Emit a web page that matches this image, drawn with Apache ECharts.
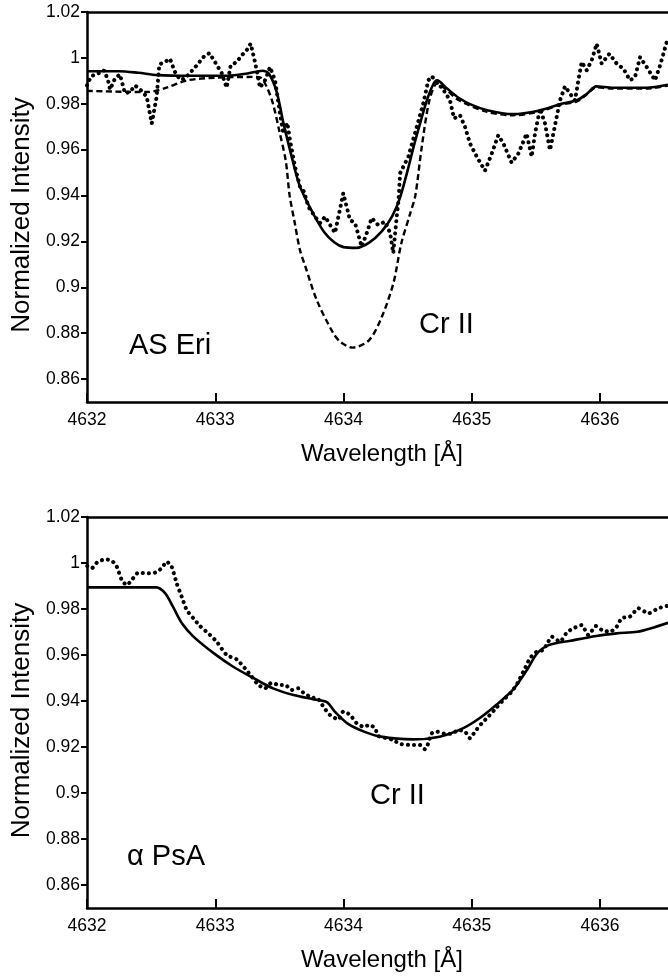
<!DOCTYPE html>
<html><head><meta charset="utf-8">
<script src="https://cdn.jsdelivr.net/npm/echarts@6/dist/echarts.min.js"></script>
<style>html,body{margin:0;padding:0;background:#fff}#c{width:668px;height:980px}</style>
</head><body><div id="c"></div>
<script>
// ---- data ----
const xTicks = [4632, 4633, 4634, 4635, 4636];
const yTicks = [0.86, 0.88, 0.9, 0.92, 0.94, 0.96, 0.98, 1, 1.02];
const panelNames = ['AS Eri', 'α PsA'];
const lineName = 'Cr II';

const topObserved = [[4632.000,0.9880],[4632.031,0.9920],[4632.070,0.9928],[4632.109,0.9938],[4632.133,0.9946],[4632.164,0.9902],[4632.180,0.9862],[4632.218,0.9910],[4632.257,0.9928],[4632.296,0.9846],[4632.335,0.9851],[4632.374,0.9880],[4632.427,0.9856],[4632.466,0.9830],[4632.505,0.9714],[4632.543,0.9830],[4632.564,0.9972],[4632.608,0.9982],[4632.647,0.9996],[4632.686,0.9938],[4632.725,0.9905],[4632.764,0.9910],[4632.803,0.9934],[4632.855,0.9967],[4632.907,1.0003],[4632.954,1.0021],[4632.998,0.9982],[4633.050,0.9934],[4633.089,0.9870],[4633.120,0.9967],[4633.167,0.9982],[4633.206,1.0011],[4633.245,1.0033],[4633.276,1.0062],[4633.310,0.9982],[4633.349,0.9870],[4633.388,0.9902],[4633.427,0.9960],[4633.466,0.9902],[4633.505,0.9757],[4633.531,0.9670],[4633.562,0.9717],[4633.583,0.9641],[4633.622,0.9525],[4633.661,0.9438],[4633.692,0.9417],[4633.726,0.9351],[4633.778,0.9308],[4633.817,0.9280],[4633.856,0.9308],[4633.895,0.9272],[4633.934,0.9237],[4633.998,0.9410],[4634.051,0.9293],[4634.090,0.9280],[4634.142,0.9177],[4634.181,0.9236],[4634.220,0.9302],[4634.269,0.9272],[4634.324,0.9286],[4634.363,0.9237],[4634.388,0.9149],[4634.415,0.9308],[4634.429,0.9380],[4634.441,0.9497],[4634.505,0.9569],[4634.571,0.9699],[4634.622,0.9801],[4634.661,0.9902],[4634.688,0.9920],[4634.727,0.9895],[4634.778,0.9862],[4634.830,0.9815],[4634.862,0.9736],[4634.908,0.9750],[4634.947,0.9700],[4634.986,0.9627],[4635.039,0.9569],[4635.103,0.9508],[4635.156,0.9583],[4635.207,0.9663],[4635.246,0.9627],[4635.311,0.9543],[4635.363,0.9583],[4635.428,0.9670],[4635.467,0.9569],[4635.493,0.9670],[4635.532,0.9779],[4635.571,0.9714],[4635.610,0.9598],[4635.636,0.9670],[4635.688,0.9815],[4635.727,0.9876],[4635.766,0.9844],[4635.805,0.9815],[4635.831,0.9902],[4635.857,0.9982],[4635.896,0.9946],[4635.935,0.9989],[4635.974,1.0062],[4636.013,0.9975],[4636.073,1.0018],[4636.130,0.9975],[4636.182,0.9953],[4636.234,0.9902],[4636.273,0.9917],[4636.312,1.0003],[4636.364,0.9960],[4636.429,0.9902],[4636.468,0.9967],[4636.520,1.0069]];

const topModelSolid = [[4632.00,0.9942],[4632.25,0.9942],[4632.40,0.9935],[4632.55,0.9925],[4632.80,0.9922],[4633.10,0.9922],[4633.25,0.9932],[4633.37,0.9944],[4633.42,0.9930],[4633.48,0.9850],[4633.53,0.9720],[4633.60,0.9560],[4633.66,0.9440],[4633.76,0.9325],[4633.85,0.9240],[4633.93,0.9195],[4634.00,0.9175],[4634.10,0.9172],[4634.20,0.9195],[4634.30,0.9245],[4634.38,0.9310],[4634.44,0.9390],[4634.50,0.9510],[4634.55,0.9620],[4634.60,0.9720],[4634.65,0.9815],[4634.70,0.9885],[4634.73,0.9902],[4634.80,0.9870],[4634.90,0.9825],[4635.00,0.9795],[4635.12,0.9772],[4635.32,0.9755],[4635.52,0.9770],[4635.70,0.9800],[4635.82,0.9815],[4635.90,0.9845],[4635.97,0.9876],[4636.10,0.9870],[4636.36,0.9870],[4636.53,0.9883]];

const topModelDashed = [[4632.00,0.9856],[4632.47,0.9851],[4632.62,0.9870],[4632.78,0.9902],[4633.01,0.9914],[4633.29,0.9917],[4633.35,0.9915],[4633.40,0.9875],[4633.45,0.9800],[4633.50,0.9680],[4633.55,0.9550],[4633.58,0.9400],[4633.62,0.9280],[4633.66,0.9163],[4633.70,0.9095],[4633.79,0.8946],[4633.92,0.8800],[4633.98,0.8760],[4634.07,0.8737],[4634.20,0.8770],[4634.30,0.8873],[4634.39,0.9020],[4634.45,0.9190],[4634.52,0.9322],[4634.56,0.9400],[4634.61,0.9612],[4634.67,0.9815],[4634.73,0.9888],[4634.79,0.9867],[4634.90,0.9815],[4635.12,0.9765],[4635.32,0.9750],[4635.52,0.9765],[4635.70,0.9797],[4635.82,0.9810],[4635.90,0.9842],[4635.97,0.9872],[4636.10,0.9866],[4636.36,0.9866],[4636.53,0.9880]];

const bottomObserved = [[4632.002,0.9987],[4632.037,0.9977],[4632.076,1.0001],[4632.140,1.0016],[4632.193,1.0010],[4632.232,0.9984],[4632.271,0.9926],[4632.310,0.9904],[4632.349,0.9926],[4632.400,0.9958],[4632.466,0.9955],[4632.530,0.9958],[4632.582,0.9977],[4632.621,1.0006],[4632.660,0.9984],[4632.699,0.9912],[4632.738,0.9854],[4632.777,0.9796],[4632.829,0.9760],[4632.881,0.9726],[4632.946,0.9694],[4633.011,0.9658],[4633.089,0.9600],[4633.167,0.9581],[4633.232,0.9542],[4633.284,0.9506],[4633.336,0.9470],[4633.388,0.9455],[4633.440,0.9480],[4633.492,0.9470],[4633.544,0.9470],[4633.596,0.9448],[4633.648,0.9455],[4633.687,0.9436],[4633.739,0.9419],[4633.804,0.9407],[4633.843,0.9375],[4633.895,0.9339],[4633.960,0.9320],[4633.998,0.9354],[4634.051,0.9340],[4634.103,0.9303],[4634.155,0.9288],[4634.207,0.9296],[4634.246,0.9281],[4634.272,0.9248],[4634.337,0.9238],[4634.389,0.9230],[4634.441,0.9213],[4634.519,0.9209],[4634.596,0.9209],[4634.635,0.9190],[4634.661,0.9216],[4634.688,0.9259],[4634.727,0.9267],[4634.778,0.9259],[4634.844,0.9257],[4634.895,0.9274],[4634.947,0.9267],[4634.986,0.9238],[4635.025,0.9267],[4635.078,0.9303],[4635.129,0.9332],[4635.194,0.9372],[4635.246,0.9404],[4635.311,0.9440],[4635.363,0.9484],[4635.415,0.9542],[4635.454,0.9586],[4635.506,0.9614],[4635.558,0.9622],[4635.597,0.9658],[4635.623,0.9680],[4635.688,0.9658],[4635.740,0.9697],[4635.792,0.9716],[4635.857,0.9730],[4635.909,0.9687],[4635.969,0.9726],[4636.013,0.9709],[4636.078,0.9701],[4636.130,0.9723],[4636.169,0.9760],[4636.234,0.9767],[4636.299,0.9803],[4636.377,0.9781],[4636.455,0.9803],[4636.520,0.9813]];

const bottomModel = [[4632.00,0.9894],[4632.54,0.9894],[4632.61,0.9868],[4632.67,0.9810],[4632.74,0.9738],[4632.83,0.9680],[4632.99,0.9607],[4633.14,0.9549],[4633.30,0.9499],[4633.45,0.9455],[4633.61,0.9426],[4633.77,0.9407],[4633.87,0.9395],[4633.93,0.9355],[4634.03,0.9303],[4634.16,0.9267],[4634.29,0.9245],[4634.54,0.9233],[4634.75,0.9245],[4634.93,0.9281],[4635.06,0.9325],[4635.19,0.9383],[4635.32,0.9448],[4635.43,0.9535],[4635.51,0.9607],[4635.60,0.9643],[4635.77,0.9662],[4635.97,0.9683],[4636.13,0.9694],[4636.29,0.9701],[4636.42,0.9720],[4636.53,0.9740]];

// ---- chart ----
const FONT = '"Liberation Sans", Arial, Helvetica, sans-serif';
const X_MIN = 4632, X_MAX = 4636.53, Y_MIN = 0.85, Y_MAX = 1.02;
const axisLineStyle = { color: '#000', width: 2.5 };

function bottomX(gi) {
  return {
    type: 'value', gridIndex: gi, position: 'bottom', min: X_MIN, max: X_MAX,
    name: 'Wavelength [Å]', nameLocation: 'middle', nameGap: 40,
    nameTextStyle: { fontSize: 24, color: '#000', fontFamily: FONT, padding: [0, 0, 0, 9] },
    axisLine: { onZero: false, lineStyle: axisLineStyle },
    axisTick: { inside: true, length: 9, customValues: xTicks, lineStyle: { color: '#000', width: 2 } },
    axisLabel: { customValues: xTicks, margin: 9, fontSize: 17.5, color: '#000', fontFamily: FONT, formatter: v => String(v) },
    splitLine: { show: false }
  };
}
function topX(gi) {
  return {
    type: 'value', gridIndex: gi, position: 'top', min: X_MIN, max: X_MAX,
    axisLine: { onZero: false, lineStyle: axisLineStyle },
    axisTick: { show: false }, axisLabel: { show: false }, splitLine: { show: false }
  };
}
function leftY(gi) {
  return {
    type: 'value', gridIndex: gi, min: Y_MIN, max: Y_MAX,
    name: 'Normalized Intensity', nameLocation: 'middle', nameGap: 50, nameRotate: 90,
    nameTextStyle: { fontSize: 26, color: '#000', fontFamily: FONT, padding: [0, 16, 0, 0] },
    axisLine: { show: true, onZero: false, lineStyle: axisLineStyle },
    axisTick: { show: true, inside: false, length: 6, customValues: yTicks, lineStyle: { color: '#000', width: 2 } },
    axisLabel: { customValues: yTicks, margin: 7, fontSize: 17.5, color: '#000', fontFamily: FONT, formatter: v => String(+v.toFixed(2)) },
    splitLine: { show: false }
  };
}
function line(data, xi, yi, style, smooth) {
  return {
    type: 'line', xAxisIndex: xi, yAxisIndex: yi, data: data,
    showSymbol: false, symbol: 'none', smooth: smooth, silent: true,
    lineStyle: Object.assign({ color: '#000' }, style)
  };
}
const dotted = { width: 4, type: [0.1, 6], cap: 'round' };
const solid = { width: 2.6, type: 'solid' };
const dashed = { width: 2.4, type: [6, 3.5] };

const chart = echarts.init(document.getElementById('c'), null, { renderer: 'canvas' });
chart.setOption({
  animation: false,
  backgroundColor: '#fff',
  textStyle: { fontFamily: FONT },
  grid: [
    { left: 87, top: 12, width: 581, height: 390 },
    { left: 87, top: 517, width: 581, height: 391 }
  ],
  xAxis: [bottomX(0), topX(0), bottomX(1), topX(1)],
  yAxis: [leftY(0), leftY(1)],
  series: [
    line(topObserved, 0, 0, dotted, false),
    line(topModelDashed, 0, 0, dashed, 0.3),
    line(topModelSolid, 0, 0, solid, 0.3),
    line(bottomObserved, 2, 1, dotted, 0.2),
    line(bottomModel, 2, 1, solid, 0.3)
  ],
  graphic: [
    { type: 'text', left: 129, top: 331, style: { text: panelNames[0], font: '29px ' + FONT, fill: '#000' } },
    { type: 'text', left: 419, top: 310, style: { text: lineName, font: '29px ' + FONT, fill: '#000' } },
    { type: 'text', left: 127, top: 842, style: { text: panelNames[1], font: '29px ' + FONT, fill: '#000' } },
    { type: 'text', left: 370, top: 781, style: { text: lineName, font: '29px ' + FONT, fill: '#000' } }
  ]
});
</script></body></html>
